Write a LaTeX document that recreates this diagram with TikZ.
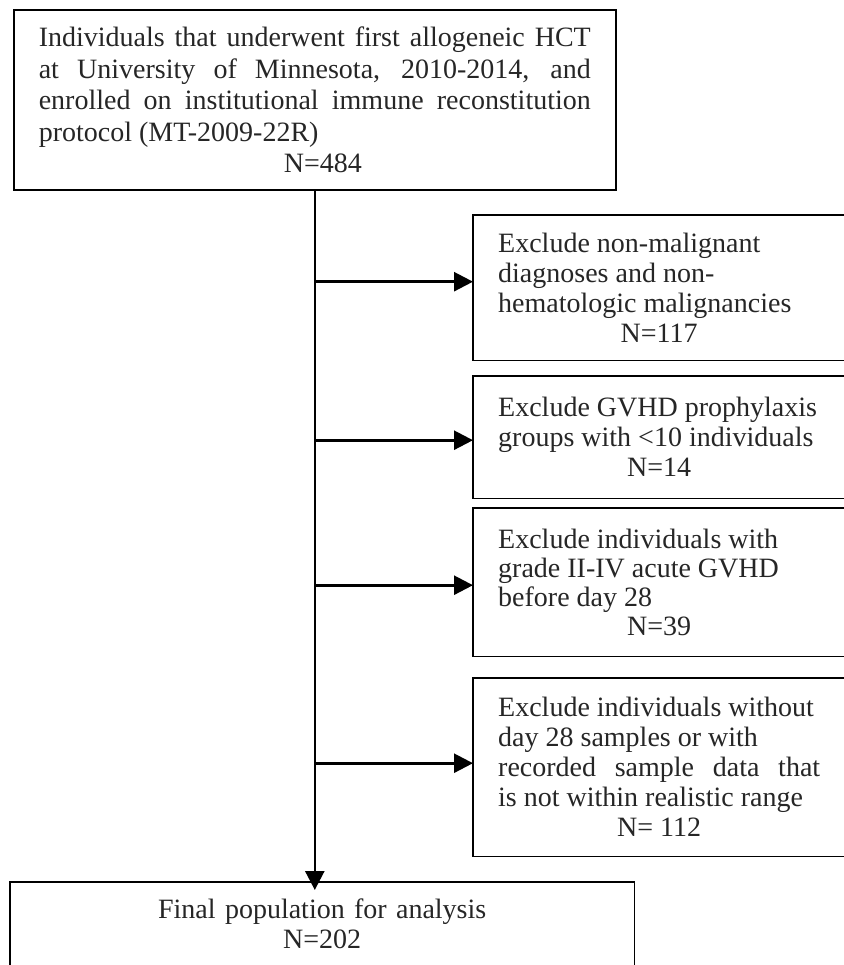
\documentclass[tikz,border=0pt]{standalone}
\usepackage{fontspec}
\setmainfont{Liberation Serif}
\usetikzlibrary{arrows.meta}

\begin{document}
\begin{tikzpicture}[x=1pt, y=1pt,
    every node/.style={font=\fontsize{28}{30}\selectfont, text=black!85},
    box/.style={draw, line width=1.6pt, anchor=north west, inner xsep=25pt, align=justify},
    exclbox/.style={anchor=north west, inner xsep=25pt, text width=322pt, align=justify},
    frame/.style={line width=1.6pt},
    flow/.style={line width=2.6pt, -{Triangle[length=19pt, width=19pt]}}]
  \useasboundingbox (0,0) rectangle (843,-965);
  \node[box, text width=552pt, minimum height=180pt,
    font=\fontsize{28}{31.5}\selectfont] (start) at (13,-9)
    {Individuals that underwent first allogeneic HCT\linebreak
     at University of Minnesota, 2010-2014, and\linebreak
     enrolled on institutional immune reconstitution\linebreak
     protocol (MT-2009-22R)\\
     \hspace*{245pt}N=484};
  \node[exclbox, minimum height=145pt] (excl1) at (473,-215)
    {Exclude non-malignant\\ diagnoses and non-\\
     hematologic malignancies\\ \makebox[\hsize]{N=117}};
  \node[exclbox, minimum height=122pt] (excl2) at (473,-376)
    {Exclude GVHD prophylaxis\\ groups with <10 individuals\\
     \makebox[\hsize]{N=14}};
  \node[exclbox, minimum height=148pt, font=\fontsize{28}{29}\selectfont] (excl3) at (473,-508)
    {Exclude individuals with\\ grade II-IV acute GVHD\\
     before day 28\\ \makebox[\hsize]{N=39}};
  \node[exclbox, minimum height=178pt] (excl4) at (473,-678)
    {Exclude individuals without\\ day 28 samples or with\\
     recorded sample data that\linebreak is not within realistic range\\
     \makebox[\hsize]{N= 112}};
  \node[anchor=north west, inner xsep=25pt, inner ysep=17pt, text width=574pt,
    align=center] (final) at (10,-882)
    {Final population for analysis\\ N=202};
  \foreach \n in {1,...,4}
    \draw[frame] ([xshift=60pt]excl\n.north east) -| (excl\n.south west)
      -- ([xshift=60pt]excl\n.south east);
  \draw[frame] ([yshift=-40pt]final.south west) |- (final.north east)
    -- ([yshift=-40pt]final.south east);
  \draw[flow, shorten >=-8pt] (start.south) -- (start.south |- final.north);
  \foreach \n/\dy in {1/6,2/-3,3/-3,4/4}
    \draw[flow] ([yshift=\dy pt]start.south |- excl\n.west)
      -- ([yshift=\dy pt]excl\n.west);
\end{tikzpicture}
\end{document}
